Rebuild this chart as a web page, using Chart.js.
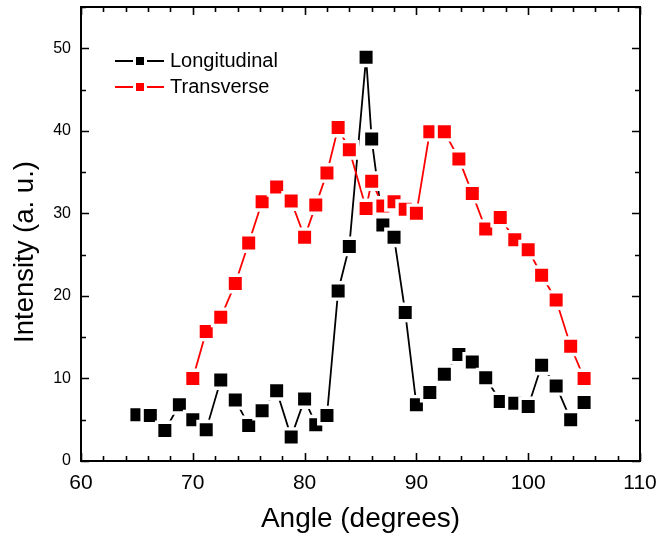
<!DOCTYPE html>
<html>
<head>
    <title>Intensity vs Angle</title>
    <script src="https://cdn.jsdelivr.net/npm/chart.js@4.4.0/dist/chart.umd.min.js"></script>
    <style>
        body { margin: 0; background: #fff; }
        #chart-container { width: 657px; height: 537px; }
    </style>
</head>
<body>
    <div id="chart-container">
        <canvas id="angleChart"></canvas>
    </div>
    <script>
        // measured angles (degrees), shared by both series
        const angles = [65, 66.2, 67.5, 68.8, 70, 71.2, 72.5, 73.8, 75, 76.2, 77.5, 78.8, 80, 81, 82, 83, 84, 85.5,
                        86, 87, 88, 89, 90, 91.2, 92.5, 93.8, 95, 96.2, 97.5, 98.8, 100, 101.2, 102.5, 103.8, 105];
        const longitudinal = [5.6, 5.5, 3.7, 6.8, 5.0, 3.8, 9.8, 7.4, 4.3, 6.1, 8.5, 2.9, 7.5, 4.4, 5.5, 20.6, 26.0, 48.9,
                              39.0, 28.6, 27.1, 18.0, 6.8, 8.3, 10.5, 12.9, 12.0, 10.1, 7.2, 7.0, 6.6, 11.6, 9.1, 5.0, 7.1];
        // transverse starts at 70 degrees
        const transverse = [null, null, null, null, 10.0, 15.7, 17.4, 21.5, 26.4, 31.4, 33.2, 31.5, 27.1, 31.0, 34.9, 40.4, 37.7, 30.6,
                            33.9, 30.9, 31.4, 30.5, 30.0, 39.9, 39.9, 36.6, 32.4, 28.1, 29.5, 26.8, 25.6, 22.5, 19.5, 13.9, 10.0];
        const seriesNames = ['Longitudinal', 'Transverse'];
        const seriesColors = ['#000000', '#ff0000'];
        const yTitle = 'Intensity (a. u.)';

        const FONT = "'Liberation Sans', Arial, sans-serif";

        function toPoints(values) {
            return angles.map((a, i) => ({ x: a, y: values[i] }));
        }

        // square markers; the white outline leaves a small gap where the line meets them
        function seriesStyle(color) {
            return {
                borderColor: color,
                backgroundColor: color,
                borderWidth: 1.8,
                pointStyle: 'rect',
                pointRadius: 11.6,
                pointHoverRadius: 11.6,
                pointBackgroundColor: color,
                pointBorderColor: '#ffffff',
                pointBorderWidth: 3.4,
                spanGaps: false,
                clip: false
            };
        }

        // frame with inward ticks on all four sides
        const framePlugin = {
            id: 'frame',
            afterDraw(chart) {
                const ctx = chart.ctx;
                const area = chart.chartArea;
                const xs = chart.scales.x;
                const ys = chart.scales.y;
                ctx.save();
                ctx.strokeStyle = '#000';
                ctx.lineWidth = 1.6;
                xs.ticks.forEach(t => {
                    const px = Math.round(xs.getPixelForValue(t.value)) + 0.5;
                    const len = t.value % 10 === 0 ? 8 : 5;
                    ctx.beginPath();
                    ctx.moveTo(px, area.bottom); ctx.lineTo(px, area.bottom - len);
                    ctx.moveTo(px, area.top); ctx.lineTo(px, area.top + len);
                    ctx.stroke();
                });
                ys.ticks.forEach(t => {
                    const py = Math.round(ys.getPixelForValue(t.value)) + 0.5;
                    const len = t.value % 10 === 0 ? 8 : 5;
                    ctx.beginPath();
                    ctx.moveTo(area.left, py); ctx.lineTo(area.left + len, py);
                    ctx.moveTo(area.right, py); ctx.lineTo(area.right - len, py);
                    ctx.stroke();
                });
                ctx.lineWidth = 2;
                ctx.strokeRect(area.left, area.top, area.right - area.left, area.bottom - area.top);

                // y axis title sits a little below the middle of the axis
                ctx.fillStyle = '#000';
                ctx.font = '27.5px ' + FONT;
                ctx.textAlign = 'center';
                ctx.textBaseline = 'middle';
                ctx.translate(25, 252);
                ctx.rotate(-Math.PI / 2);
                ctx.fillText(yTitle, 0, 0);
                ctx.restore();
            }
        };

        // line - marker - line legend in the upper left corner
        const legendPlugin = {
            id: 'lineLegend',
            afterDraw(chart) {
                const ctx = chart.ctx;
                ctx.save();
                ctx.font = '20px ' + FONT;
                ctx.textBaseline = 'middle';
                seriesNames.forEach((name, i) => {
                    const y = 61 + i * 26;
                    ctx.strokeStyle = seriesColors[i];
                    ctx.fillStyle = seriesColors[i];
                    ctx.lineWidth = 1.8;
                    ctx.beginPath();
                    ctx.moveTo(115, y); ctx.lineTo(133, y);
                    ctx.moveTo(147, y); ctx.lineTo(164, y);
                    ctx.stroke();
                    ctx.fillRect(136, y - 4, 8, 8);
                    ctx.fillStyle = '#000';
                    ctx.fillText(name, 170, y);
                });
                ctx.restore();
            }
        };

        // fixed plot box: no automatic padding from labels or markers
        function noScalePadding(scale) {
            scale.paddingTop = 0;
            scale.paddingBottom = 0;
            scale.paddingLeft = 0;
            scale.paddingRight = 0;
        }

        const ctx = document.getElementById('angleChart').getContext('2d');
        const angleChart = new Chart(ctx, {
            type: 'line',
            data: {
                datasets: [
                    Object.assign({ label: seriesNames[0], data: toPoints(longitudinal), order: 1 }, seriesStyle(seriesColors[0])),
                    Object.assign({ label: seriesNames[1], data: toPoints(transverse), order: 0 }, seriesStyle(seriesColors[1]))
                ]
            },
            options: {
                responsive: true,
                maintainAspectRatio: false,
                animation: false,
                devicePixelRatio: 1,
                layout: { autoPadding: false, padding: { left: 0, top: 7, right: 17, bottom: 0 } },
                plugins: {
                    legend: { display: false },
                    tooltip: { enabled: false }
                },
                events: [],
                scales: {
                    x: {
                        type: 'linear',
                        min: 60,
                        max: 110,
                        grid: { display: false, drawTicks: false },
                        border: { display: false },
                        ticks: {
                            stepSize: 2,
                            autoSkip: false,
                            maxRotation: 0,
                            padding: 10,
                            color: '#000',
                            font: { family: FONT, size: 21 },
                            callback: v => (v % 10 === 0 ? v : '')
                        },
                        title: {
                            display: true,
                            text: 'Angle (degrees)',
                            color: '#000',
                            font: { family: FONT, size: 28, lineHeight: 1 },
                            padding: { top: 0, bottom: 4 }
                        },
                        afterFit: scale => { scale.height = 76; noScalePadding(scale); }
                    },
                    y: {
                        min: 0,
                        max: 55,
                        grid: { display: false, drawTicks: false },
                        border: { display: false },
                        ticks: {
                            stepSize: 5,
                            autoSkip: false,
                            padding: 10,
                            color: '#000',
                            font: { family: FONT, size: 16 },
                            callback: v => (v % 10 === 0 ? v : '')
                        },
                        afterFit: scale => { scale.width = 81; noScalePadding(scale); }
                    }
                }
            },
            plugins: [framePlugin, legendPlugin]
        });
    </script>
</body>
</html>
